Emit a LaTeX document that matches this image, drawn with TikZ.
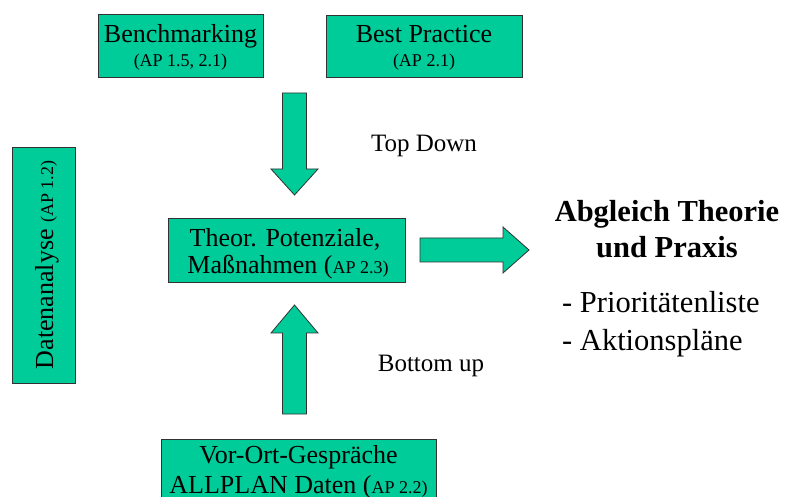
\documentclass[tikz,border=0pt]{standalone}
\usepackage{fontspec}
\setmainfont{Liberation Serif}
\definecolor{boxgreen}{RGB}{0,204,153}
\definecolor{boxline}{RGB}{50,50,50}
\begin{document}
\begin{tikzpicture}[x=1pt,y=-1pt,
  box/.style={draw=boxline, fill=boxgreen, line width=0.8pt, inner sep=0pt},
  blockarrow/.style={draw=boxline, fill=boxgreen, line width=0.8pt, line join=miter},
  maintext/.style={font=\fontsize{26}{30}\selectfont, anchor=base, inner sep=0pt},
  smalltext/.style={font=\fontsize{18}{20}\selectfont, anchor=base, inner sep=0pt},
  labeltext/.style={font=\fontsize{25}{28}\selectfont, anchor=base, inner sep=0pt},
  bigtext/.style={font=\fontsize{30.5}{34}\selectfont, inner sep=0pt}]
\clip (0,0) rectangle (788,497);
\fill[white] (0,0) rectangle (788,497);

% source boxes at the top
\node[box, minimum width=165pt, minimum height=63pt] (bench) at (180.5,45.5) {};
\node[maintext] (benchT) at (180.5,43) {Benchmarking};
\node[smalltext] (benchS) at (180.5,67) {(AP 1.5, 2.1)};

\node[box, minimum width=196pt, minimum height=62pt] (best) at (424,46) {};
\node[maintext] (bestT) at (424,43) {Best Practice};
\node[smalltext] (bestS) at (424,67) {(AP 2.1)};

% data analysis, set vertically
\node[box, minimum width=63pt, minimum height=236pt] (daten) at (43.5,265) {};
\node[maintext, rotate=90] (datenT) at (53,265) {Datenanalyse {\fontsize{18}{20}\selectfont (AP 1.2)}};

% central box
\node[box, minimum width=237pt, minimum height=64pt] (theor) at (286.5,250) {};
\node[maintext] (theorA) at (285,247) {Theor. Potenziale,};
\node[maintext] (theorB) at (288,274) {Maßnahmen (\fontsize{18}{20}\selectfont AP 2.3)};

% local talks at the bottom
\node[box, minimum width=275pt, minimum height=80pt] (vorort) at (298.5,479) {};
\node[maintext] (vorA) at (298.5,463) {Vor-Ort-Gespräche};
\node[maintext] (vorB) at (298.5,493) {ALLPLAN Daten (\fontsize{18}{20}\selectfont AP 2.2)};

% block arrows
\coordinate (downtip) at (294.5,195);
\draw[blockarrow] (downtip) -- ++(-23.5,-26) -- ++(11.5,0) -- ++(0,-76)
  -- ++(24,0) -- ++(0,76) -- ++(11.5,0) -- cycle;

\coordinate (uptip) at (294.5,305);
\draw[blockarrow] (uptip) -- ++(-23.5,28) -- ++(11.5,0) -- ++(0,81)
  -- ++(24,0) -- ++(0,-81) -- ++(11.5,0) -- cycle;

\coordinate (righttip) at (529,250);
\draw[blockarrow] (righttip) -- ++(-26,-23) -- ++(0,11) -- ++(-83,0)
  -- ++(0,24) -- ++(83,0) -- ++(0,11) -- cycle;

% arrow labels
\node[labeltext] (topdown) at (424,152) {Top Down};
\node[labeltext] (bottomup) at (431,372) {Bottom up};

% result
\node[bigtext, anchor=base, font=\fontsize{30.5}{34}\selectfont\bfseries] (abgl1) at (667,222) {Abgleich Theorie};
\node[bigtext, anchor=base, font=\fontsize{30.5}{34}\selectfont\bfseries] (abgl2) at (667,258) {und Praxis};
\node[bigtext, anchor=base west] (prio) at (562,313) {- Prioritätenliste};
\node[bigtext, anchor=base west] (akt) at (562,351) {- Aktionspläne};
\end{tikzpicture}
\end{document}
